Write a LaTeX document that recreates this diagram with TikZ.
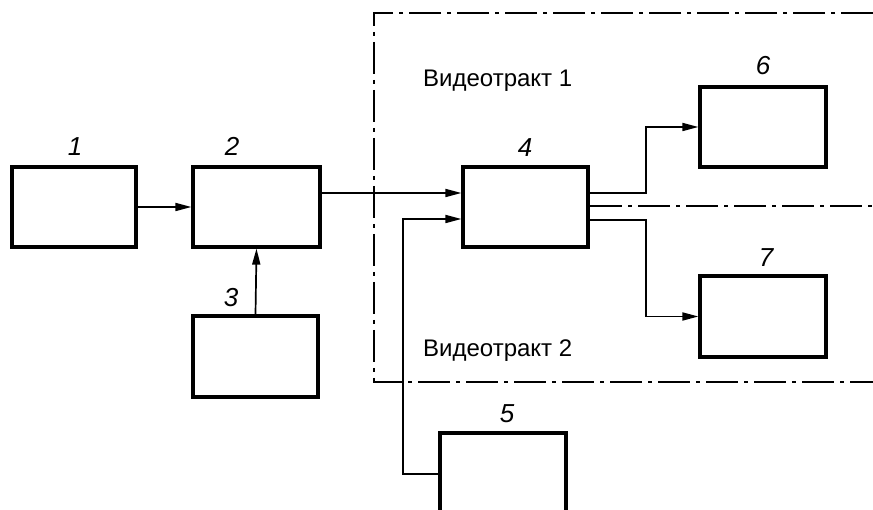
\documentclass[tikz,border=0pt]{standalone}
\usepackage{fontspec}
\setmainfont{Liberation Sans}
\usetikzlibrary{arrows.meta,calc}
\begin{document}
\begin{tikzpicture}[x=1pt,y=-1pt,
  blk/.style={draw,line width=3.2pt,inner sep=0pt,minimum width=125pt,minimum height=80pt},
  arr/.style={line width=1.7pt,-{Triangle[length=16pt,width=8pt]}},
  frame/.style={line width=2.3pt,dash pattern=on 32pt off 6pt on 4pt off 6pt},
  num/.style={font=\fontsize{26}{30}\selectfont\itshape,anchor=base,inner sep=0pt},
  tracttext/.style={font=\fontsize{24}{28}\selectfont,anchor=base west,inner sep=0pt}]
\clip (0,0) rectangle (873,510);
\fill[white] (0,0) rectangle (873,510);
% blocks
\node[blk,minimum width=124pt] (b1) at (74,207) {};
\node[blk,minimum width=127pt] (b2) at (256.5,207) {};
\node[blk,minimum height=81pt] (b3) at (255.5,356.5) {};
\node[blk] (b4) at (525.5,207) {};
\node[blk,minimum width=126pt,minimum height=82pt] (b5) at (503,474) {};
\node[blk,minimum width=126pt] (b6) at (763,127) {};
\node[blk,minimum width=126pt,minimum height=81pt] (b7) at (763,316.5) {};
% numbers
\node[num] (n1) at (75,156) {1};
\node[num] (n2) at (232,156) {2};
\node[num] (n3) at (231,307) {3};
\node[num] (n4) at (525,157) {4};
\node[num] (n5) at (507,423) {5};
\node[num] (n6) at (763,75) {6};
\node[num] (n7) at (766,267) {7};
% frame
\draw[frame] (873,13) -- (374,13) -- (374,382) -- (873,382);
\draw[frame] (590,206) -- (873,206);
\node[tracttext] (t1) at (423,87) {Видеотракт 1};
\node[tracttext] (t2) at (423,357) {Видеотракт 2};
% connectors
\coordinate (k6) at (646,193);
\coordinate (k7) at (646,220);
\coordinate (j5) at (403,219);
\draw[arr] (b1.east) -- (b2.west);
\draw[arr] (b3.north) -- (b2.south);
\draw[arr] ([yshift=14pt]b2.east) -- ([yshift=14pt]b4.west);
\draw[arr] (b5.west) -| (j5) -- (j5 -| b4.west);
\draw[arr] ([yshift=14pt]b4.east) -- (k6) |- (b6.west);
\draw[arr] ([yshift=-13pt]b4.east) -- (k7) |- (b7.west);
\end{tikzpicture}
\end{document}
